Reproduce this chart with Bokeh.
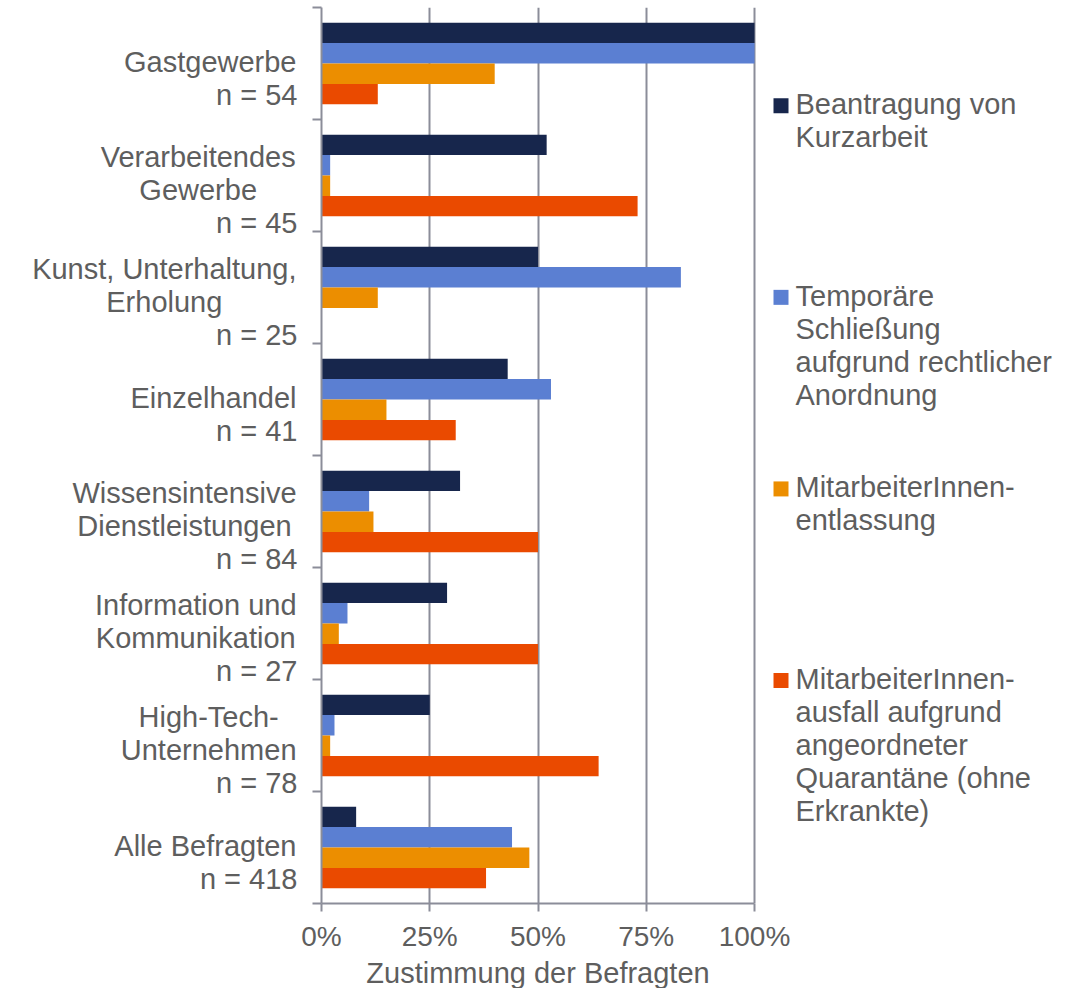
from bokeh.plotting import figure
from bokeh.layouts import row
from bokeh.models import Range1d, FixedTicker, PrintfTickFormatter, Title
from bokeh.core.properties import value
from bokeh.embed import file_html
from bokeh.resources import INLINE

# ---------------- data ----------------
categories = ["Gastgewerbe", "Verarbeitendes Gewerbe", "Kunst, Unterhaltung, Erholung",
              "Einzelhandel", "Wissensintensive Dienstleistungen",
              "Information und Kommunikation", "High-Tech-Unternehmen", "Alle Befragten"]
category_lines = [["Gastgewerbe"], ["Verarbeitendes", "Gewerbe"], ["Kunst, Unterhaltung,", "Erholung"],
                  ["Einzelhandel"], ["Wissensintensive", "Dienstleistungen"],
                  ["Information und", "Kommunikation"], ["High-Tech-", "Unternehmen"], ["Alle Befragten"]]
sample_sizes = [54, 45, 25, 41, 84, 27, 78, 418]

kurzarbeit = [100, 52, 50, 43, 32, 29, 25, 8]
schliessung = [100, 2, 83, 53, 11, 6, 3, 44]
entlassung = [40, 2, 13, 15, 12, 4, 2, 48]
quarantaene = [13, 73, 0, 31, 50, 50, 64, 38]

series_values = [kurzarbeit, schliessung, entlassung, quarantaene]
series_colors = ["#17264c", "#5b7fd2", "#ec8e00", "#ea4a00"]
legend_lines = [["Beantragung von", "Kurzarbeit"],
                ["Temporäre", "Schließung", "aufgrund rechtlicher", "Anordnung"],
                ["MitarbeiterInnen-", "entlassung"],
                ["MitarbeiterInnen-", "ausfall aufgrund", "angeordneter", "Quarantäne (ohne", "Erkrankte)"]]
x_ticks = [0, 25, 50, 75, 100]
x_title = "Zustimmung der Befragten"

# ---------------- layout constants (page pixels) ----------------
H = 988
LAB_W = 298          # width of the label panel
MAIN_W = 1070 - LAB_W
FRAME_LEFT = 321
FRAME_TOP = 7
FRAME_BOTTOM = 905
PX_PER_PCT = (754 - FRAME_LEFT) / 100.0
NCAT = len(categories)
PX_Y = (FRAME_BOTTOM - FRAME_TOP) / NCAT
MB_LEFT = FRAME_LEFT - LAB_W
FRAME_W = MAIN_W - MB_LEFT
XMAX = FRAME_W / PX_PER_PCT
TXT = "#5e5e5e"
GRID = "#8b8d99"
FONT = "Liberation Sans"
BASE_SHIFT = 11      # renderer draws 'alphabetic' text this much lower

AW = {' ': 278, ',': 278, '-': 333, '(': 333, ')': 333, '=': 584,
      'a': 556, 'b': 556, 'c': 500, 'd': 556, 'e': 556, 'f': 278, 'g': 556, 'h': 556, 'i': 222,
      'j': 222, 'k': 500, 'l': 222, 'm': 833, 'n': 556, 'o': 556, 'p': 556, 'q': 556, 'r': 333,
      's': 500, 't': 278, 'u': 556, 'v': 500, 'w': 722, 'x': 500, 'y': 500, 'z': 500,
      'A': 667, 'B': 667, 'C': 722, 'D': 722, 'E': 667, 'F': 611, 'G': 778, 'H': 722, 'I': 278,
      'K': 667, 'T': 611, 'U': 722, 'V': 667, 'W': 944, 'Z': 611}


def text_width(s, size):
    return sum(AW.get(c, 556) for c in s) / 1000.0 * size


def xdata(page_x):
    return (page_x - FRAME_LEFT) / PX_PER_PCT


def ydata(page_y):
    return NCAT - (page_y - FRAME_TOP) / PX_Y


y_range = Range1d(0, NCAT)

# ---------------- main plot ----------------
p = figure(width=MAIN_W, height=H, output_backend="svg", toolbar_location=None,
           x_range=Range1d(0, XMAX), y_range=y_range,
           min_border_left=MB_LEFT, min_border_right=0, min_border_top=FRAME_TOP,
           min_border_bottom=H - FRAME_BOTTOM)
p.outline_line_color = None

bar_h = 0.182
for k, (vals, col) in enumerate(zip(series_values, series_colors)):
    ys = [NCAT - 0.5 - i + (1.5 - k) * bar_h for i in range(NCAT)]
    p.hbar(y=ys, left=0, right=vals, height=bar_h, fill_color=col, line_color=None)

p.xaxis.ticker = FixedTicker(ticks=x_ticks)
p.xaxis.formatter = PrintfTickFormatter(format="%d%%")
p.xaxis.bounds = (0, 100)
p.xaxis.major_label_text_font = FONT
p.xaxis.major_label_text_font_size = "28px"
p.xaxis.major_label_text_color = TXT
p.xaxis.major_label_standoff = 9
p.xaxis.major_tick_out = 8
p.xaxis.major_tick_in = 0
p.xaxis.minor_tick_line_color = None
p.xaxis.axis_line_color = GRID
p.xaxis.axis_line_width = 2
p.xaxis.major_tick_line_color = GRID
p.xaxis.major_tick_line_width = 2

# axis title centred under the 0-100 % part of the axis
title_offset = (FRAME_LEFT + 754) / 2 - text_width(x_title, 29) / 2 - FRAME_LEFT
p.add_layout(Title(text=x_title, align="left", offset=title_offset, standoff=0,
                   text_font=FONT, text_font_size="29px", text_font_style="normal",
                   text_color=TXT), "below")

p.yaxis.ticker = FixedTicker(ticks=list(range(NCAT + 1)))
p.yaxis.major_label_overrides = {i: "" for i in range(NCAT + 1)}
p.yaxis.major_label_text_font_size = "0px"
p.yaxis.major_label_standoff = 0
p.yaxis.major_tick_out = 9
p.yaxis.major_tick_in = 0
p.yaxis.minor_tick_line_color = None
p.yaxis.axis_line_color = GRID
p.yaxis.axis_line_width = 2
p.yaxis.major_tick_line_color = GRID
p.yaxis.major_tick_line_width = 2

p.xgrid.ticker = FixedTicker(ticks=x_ticks)
p.xgrid.grid_line_color = GRID
p.xgrid.grid_line_width = 2
p.ygrid.grid_line_color = None

# legend (drawn inside the extended frame, right of 100 %)
lg_x, lg_y, lg_t, sq_x, sq_y, sq_c = [], [], [], [], [], []
for j, (lines, col) in enumerate(zip(legend_lines, series_colors)):
    base = 115 + j * 192
    for k, s in enumerate(lines):
        lg_x.append(xdata(795))
        lg_y.append(ydata(base + k * 33 - BASE_SHIFT))
        lg_t.append(s)
    sq_x.append(xdata(780.5))
    sq_y.append(ydata(base - 9.5))
    sq_c.append(col)
p.scatter(x=sq_x, y=sq_y, marker="square", size=15, fill_color=sq_c, line_color=None)
p.text(x=lg_x, y=lg_y, text=lg_t, text_font=value(FONT), text_font_size=value("29px"),
       text_color=TXT, text_align="left", text_baseline="alphabetic")

# ---------------- category label panel ----------------
lab = figure(width=LAB_W, height=H, output_backend="svg", toolbar_location=None,
             x_range=Range1d(0, LAB_W), y_range=y_range,
             x_axis_type=None, y_axis_type=None,
             min_border_left=0, min_border_right=0, min_border_top=FRAME_TOP,
             min_border_bottom=H - FRAME_BOTTOM)
lab.outline_line_color = None
lab.grid.grid_line_color = None

cx, cy, ct, ca = [], [], [], []
for i, lines in enumerate(category_lines):
    all_lines = lines + [f"n = {sample_sizes[i]}"]
    n = len(all_lines)
    widest = max(text_width(s, 29) for s in lines)
    band_top = FRAME_TOP + i * PX_Y
    for k, s in enumerate(all_lines):
        baseline = band_top + 82 + (k - (n - 1) / 2) * 33
        if k == n - 1:
            x, align = 297, "right"
        elif len(lines) == 1:
            x, align = 296, "right"
        else:
            x, align = 296 - widest / 2, "center"
        cx.append(x)
        cy.append(ydata(baseline - BASE_SHIFT))
        ct.append(s)
        ca.append(align)
lab.text(x=cx, y=cy, text=ct, text_align=ca, text_font=value(FONT), text_font_size=value("29px"),
         text_color=TXT, text_baseline="alphabetic")

layout = row(lab, p)
open("out.html", "w").write(file_html(layout, INLINE))
